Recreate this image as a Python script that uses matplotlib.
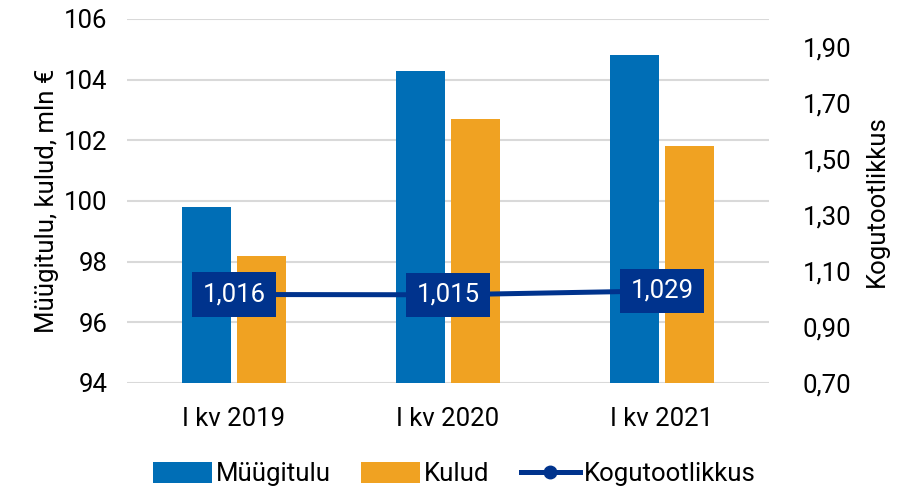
import matplotlib
matplotlib.use("Agg")
import matplotlib.pyplot as plt
import numpy as np
from matplotlib.lines import Line2D
from matplotlib.patches import Patch

plt.rcParams['font.family'] = ['Roboto', 'DejaVu Sans']

categories = ['I kv 2019', 'I kv 2020', 'I kv 2021']
myygitulu = [99.8, 104.3, 104.8]
kulud = [98.2, 102.7, 101.8]
kogutootlikkus = [1.016, 1.015, 1.029]

blue = '#006EB6'
orange = '#F0A222'
navy = '#00338D'
grid = '#D9D9D9'
fs = 18.5

fig = plt.figure(figsize=(8.99, 4.97), dpi=100)
ax = fig.add_axes([0.1413, 0.2294, 0.7141, 0.7324])
ax2 = ax.twinx()

x = np.arange(len(categories))
w = 0.231
off = 0.1285
ax.bar(x - off, myygitulu, w, color=blue, zorder=2)
ax.bar(x + off, kulud, w, color=orange, zorder=2)

ax.set_ylim(94, 106)
ax.set_yticks(np.arange(94, 107, 2))
ax.set_xlim(-0.5, 2.5)
ax.set_xticks(x)
ax.set_xticklabels(categories)
ax.yaxis.grid(True, color=grid, linewidth=1.5, zorder=0)
ax.set_axisbelow(True)
ax.tick_params(axis='both', length=0, labelsize=fs)
ax.tick_params(axis='y', pad=14)
ax.tick_params(axis='x', pad=17)
ax.set_ylabel('Müügitulu, kulud, mln €', fontsize=fs, labelpad=4)

ax2.plot(x, kogutootlikkus, color=navy, linewidth=3.6, marker='o', markersize=9, zorder=3)
ax2.set_ylim(0.7, 2.0)
ax2.set_yticks(np.arange(0.7, 1.91, 0.2))
ax2.set_yticklabels([f"{v:.2f}".replace('.', ',') for v in np.arange(0.7, 1.91, 0.2)])
ax2.tick_params(axis='y', length=0, labelsize=fs, pad=24)
ax2.set_ylabel('Kogutootlikkus', fontsize=fs, labelpad=10)

for xi, v in zip(x, kogutootlikkus):
    ax2.text(xi, v, f"{v:.3f}".replace('.', ','), ha='center', va='center',
             color='white', fontsize=fs, zorder=4,
             bbox=dict(boxstyle='square,pad=0.4', facecolor=navy, edgecolor='none'))

for a in (ax, ax2):
    for s in a.spines.values():
        s.set_visible(False)

handles = [Patch(facecolor=blue, label='Müügitulu'),
           Patch(facecolor=orange, label='Kulud'),
           Line2D([0], [0], color=navy, linewidth=3.6, marker='o', markersize=9, label='Kogutootlikkus')]
fig.legend(handles=handles, loc='lower center', bbox_to_anchor=(0.505, -0.025), ncol=3,
           frameon=False, fontsize=fs, handlelength=2.3, handleheight=0.85,
           handletextpad=0.15, columnspacing=1.2)

fig.savefig('out.png', dpi=100)
